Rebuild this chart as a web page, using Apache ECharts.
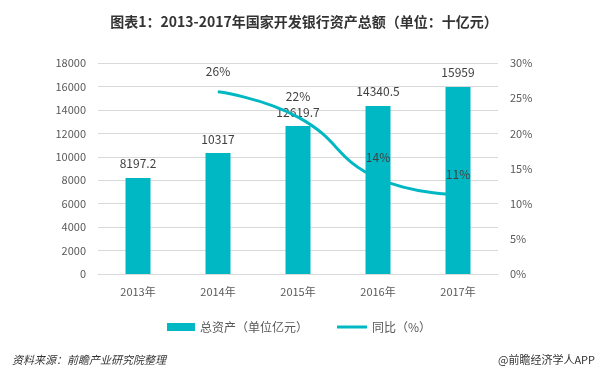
<!DOCTYPE html>
<html>
<head>
<meta charset="utf-8">
<script src="https://cdn.jsdelivr.net/npm/echarts@6/dist/echarts.min.js"></script>
<style>
html, body { margin: 0; padding: 0; background: #fff; }
#chart { width: 608px; height: 377px; }
</style>
</head>
<body>
<div id="chart"></div>
<script>
var years = ["2013年", "2014年", "2015年", "2016年", "2017年"];
var assets = [8197.2, 10317, 12619.7, 14340.5, 15959];
var growth = [null, 25.9, 22.3, 13.6, 11.3];
var growthLabels = ["", "26%", "22%", "14%", "11%"];
var leftTicks = [0, 18000, 2000];
var rightTicks = [0, 30, 5];

var chart = echarts.init(document.getElementById("chart"));
var font = "'Noto Sans CJK SC', 'Noto Sans', sans-serif";
var mainColor = "#00b8c3";

chart.setOption({
    textStyle: { fontFamily: font },
    title: [
        {
            text: "图表1：2013-2017年国家开发银行资产总额（单位：十亿元）",
            left: "center",
            top: 10,
            textStyle: { fontSize: 14, fontWeight: "bold", color: "#333" }
        },
        {
            text: "资料来源：前瞻产业研究院整理",
            left: 7,
            top: 349,
            textStyle: { fontSize: 11, fontWeight: "normal", fontStyle: "italic", color: "#333" }
        },
        {
            text: "@前瞻经济学人APP",
            right: 8,
            top: 349,
            textStyle: { fontSize: 11, fontWeight: "normal", color: "#333" }
        }
    ],
    legend: [
        {
            top: 316,
            left: 162,
            itemWidth: 28,
            itemHeight: 8,
            textStyle: { fontSize: 12, color: "#595959" },
            data: [{ name: "总资产（单位亿元）", icon: "rect" }]
        },
        {
            top: 316,
            left: 332,
            itemWidth: 30,
            itemHeight: 3,
            textStyle: { fontSize: 12, color: "#595959" },
            data: [{ name: "同比（%）", icon: "rect" }]
        }
    ],
    grid: { left: 98, right: 110, top: 63, bottom: 103 },
    xAxis: {
        type: "category",
        data: years,
        axisTick: { show: false },
        axisLine: { lineStyle: { color: "#d9d9d9" } },
        axisLabel: { color: "#595959", fontSize: 11, margin: 12 }
    },
    yAxis: [
        {
            type: "value",
            min: leftTicks[0],
            max: leftTicks[1],
            interval: leftTicks[2],
            axisLine: { show: false },
            axisTick: { show: false },
            splitLine: { lineStyle: { color: "#d9d9d9" } },
            axisLabel: {
                color: "#595959", fontSize: 11, margin: 12,
                formatter: function (v) { return String(v); }
            }
        },
        {
            type: "value",
            min: rightTicks[0],
            max: rightTicks[1],
            interval: rightTicks[2],
            axisLine: { show: false },
            axisTick: { show: false },
            splitLine: { show: false },
            axisLabel: { color: "#595959", fontSize: 11, margin: 12, formatter: "{value}%" }
        }
    ],
    series: [
        {
            name: "总资产（单位亿元）",
            type: "bar",
            data: assets,
            barWidth: 25,
            itemStyle: { color: mainColor },
            label: {
                show: true,
                position: "top",
                distance: 8,
                color: "#404040",
                fontSize: 12
            }
        },
        {
            name: "同比（%）",
            type: "line",
            yAxisIndex: 1,
            data: growth,
            smooth: 0.5,
            symbol: "circle",
            symbolSize: 1,
            lineStyle: { color: mainColor, width: 3 },
            itemStyle: { color: mainColor },
            label: {
                show: true,
                position: "top",
                distance: 14,
                color: "#404040",
                fontSize: 12,
                formatter: function (p) { return growthLabels[p.dataIndex]; }
            }
        }
    ]
});
</script>
</body>
</html>
